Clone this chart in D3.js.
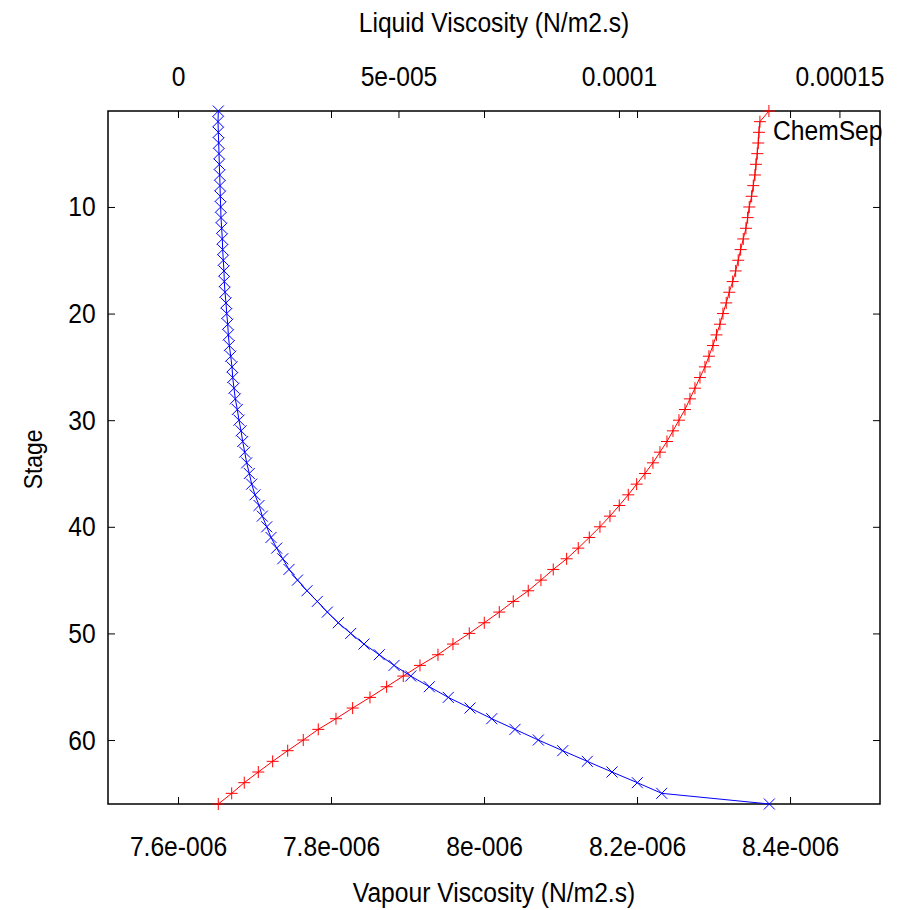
<!DOCTYPE html>
<html>
<head>
<meta charset="utf-8">
<script src="https://cdn.jsdelivr.net/npm/d3@7"></script>
<style>
  body { margin: 0; background: #fff; }
  text { font-family: "Liberation Sans Narrow", "Liberation Sans", Arial, sans-serif; fill: #000; }
</style>
</head>
<body>
<script>
const w = 906;
const h = 910;

// stages 1..66
const stages = d3.range(1, 67);

// liquid viscosity (N/m2.s), top axis, red +
const liquidViscosity = [
  1.3401e-4, 1.3197e-4, 1.3175e-4, 1.3159e-4, 1.3136e-4, 1.3107e-4, 1.3084e-4, 1.3046e-4, 1.3009e-4, 1.2955e-4,
  1.2919e-4, 1.2880e-4, 1.2819e-4, 1.2760e-4, 1.2705e-4, 1.2647e-4, 1.2579e-4, 1.2501e-4, 1.2433e-4, 1.2358e-4,
  1.2290e-4, 1.2211e-4, 1.2132e-4, 1.2041e-4, 1.1950e-4, 1.1837e-4, 1.1723e-4, 1.1610e-4, 1.1497e-4, 1.1361e-4,
  1.1225e-4, 1.1089e-4, 1.0930e-4, 1.0771e-4, 1.0590e-4, 1.0402e-4, 1.0211e-4, 1.0007e-4, 9.796e-5, 9.569e-5,
  9.327e-5, 9.077e-5, 8.814e-5, 8.510e-5, 8.231e-5, 7.943e-5, 7.603e-5, 7.286e-5, 6.946e-5, 6.606e-5,
  6.236e-5, 5.896e-5, 5.488e-5, 5.109e-5, 4.732e-5, 4.354e-5, 3.961e-5, 3.583e-5, 3.181e-5, 2.841e-5,
  2.488e-5, 2.147e-5, 1.821e-5, 1.503e-5, 1.218e-5, 9.14e-6
];

// vapour viscosity (N/m2.s), bottom axis, blue x
const vapourViscosity = [
  7.6527e-6, 7.6523e-6, 7.6527e-6, 7.6532e-6, 7.6536e-6, 7.6540e-6, 7.6545e-6, 7.6549e-6, 7.6553e-6, 7.6558e-6,
  7.6562e-6, 7.6571e-6, 7.6579e-6, 7.6584e-6, 7.6592e-6, 7.6601e-6, 7.6605e-6, 7.6614e-6, 7.6627e-6, 7.6637e-6,
  7.6650e-6, 7.6658e-6, 7.6671e-6, 7.6689e-6, 7.6706e-6, 7.6715e-6, 7.6732e-6, 7.6749e-6, 7.6775e-6, 7.6797e-6,
  7.6824e-6, 7.6846e-6, 7.6872e-6, 7.6898e-6, 7.6932e-6, 7.6963e-6, 7.7007e-6, 7.7059e-6, 7.7102e-6, 7.7160e-6,
  7.7216e-6, 7.7290e-6, 7.7369e-6, 7.7451e-6, 7.7562e-6, 7.7686e-6, 7.7821e-6, 7.7952e-6, 7.8095e-6, 7.8258e-6,
  7.8431e-6, 7.8631e-6, 7.8824e-6, 7.9042e-6, 7.9285e-6, 7.9533e-6, 7.9817e-6, 8.0101e-6, 8.0405e-6, 8.0710e-6,
  8.1029e-6, 8.1350e-6, 8.1673e-6, 8.2004e-6, 8.2323e-6, 8.3730e-6
];

const vapourTicks = [7.6e-6, 7.8e-6, 8e-6, 8.2e-6, 8.4e-6];
const vapourTickLabels = ["7.6e-006", "7.8e-006", "8e-006", "8.2e-006", "8.4e-006"];
const liquidTicks = [0, 5e-5, 1e-4, 1.5e-4];
const liquidTickLabels = ["0", "5e-005", "0.0001", "0.00015"];
const stageTicks = [10, 20, 30, 40, 50, 60];

const padL = 108, padR = 880, padT = 111, padB = 804;
const tickLen = 7;
const squeeze = "scale(0.88,1)"; // narrow look of the original font

const svg = d3.select("body").append("svg")
  .attr("width", w)
  .attr("height", h);

const yScale = d3.scaleLinear().domain([1, 66]).range([padT, padB]);
const xVap = d3.scaleLinear().domain([7.5085e-6, 8.5176e-6]).range([padL, padR]);
const xLiq = d3.scaleLinear().domain([-1.587e-5, 1.592e-4]).range([padL, padR]);

function style(g) {
  g.select(".domain").remove();
  g.selectAll(".tick line").attr("stroke", "#000").attr("stroke-width", 1);
  g.selectAll(".tick text").attr("font-size", 28).attr("fill", "#000")
    .attr("transform", squeeze)
    .attr("font-family", '"Liberation Sans Narrow", "Liberation Sans", sans-serif');
}

// bottom axis (vapour)
svg.append("g").attr("transform", "translate(0," + padB + ")")
  .call(d3.axisBottom(xVap).tickValues(vapourTicks)
    .tickFormat((d, i) => vapourTickLabels[i]).tickSize(-tickLen).tickPadding(32))
  .call(style);

// mirrored vapour ticks on top
svg.append("g").attr("transform", "translate(0," + padT + ")")
  .call(d3.axisTop(xVap).tickValues(vapourTicks).tickFormat("").tickSize(-tickLen))
  .call(style);

// top axis (liquid)
svg.append("g").attr("transform", "translate(0," + padT + ")")
  .call(d3.axisTop(xLiq).tickValues(liquidTicks)
    .tickFormat((d, i) => liquidTickLabels[i]).tickSize(-tickLen).tickPadding(25))
  .call(style);

// left axis (stage)
svg.append("g").attr("transform", "translate(" + padL + ",0)")
  .call(d3.axisLeft(yScale).tickValues(stageTicks).tickSize(-tickLen).tickPadding(14))
  .call(style);

// mirrored right ticks
svg.append("g").attr("transform", "translate(" + padR + ",0)")
  .call(d3.axisRight(yScale).tickValues(stageTicks).tickFormat("").tickSize(-tickLen))
  .call(style);

// frame
svg.append("rect")
  .attr("x", padL).attr("y", padT)
  .attr("width", padR - padL).attr("height", padB - padT)
  .attr("fill", "none").attr("stroke", "#000").attr("stroke-width", 1.5);

// axis titles
svg.append("text")
  .attr("transform", "translate(" + ((padL + padR) / 2) + ",32) " + squeeze)
  .attr("text-anchor", "middle").attr("font-size", 28)
  .text("Liquid Viscosity (N/m2.s)");
svg.append("text")
  .attr("transform", "translate(" + ((padL + padR) / 2) + ",902) " + squeeze)
  .attr("text-anchor", "middle").attr("font-size", 28)
  .text("Vapour Viscosity (N/m2.s)");
svg.append("text")
  .attr("transform", "translate(42," + ((padT + padB) / 2 + 2) + ") rotate(-90) " + squeeze)
  .attr("text-anchor", "middle").attr("font-size", 26)
  .text("Stage");

// series
const liq = stages.map((s, i) => ({ s: s, v: liquidViscosity[i] }));
const vap = stages.map((s, i) => ({ s: s, v: vapourViscosity[i] }));

svg.append("path").datum(liq)
  .attr("fill", "none").attr("stroke", "#ff0000").attr("stroke-width", 1)
  .attr("d", d3.line().x(d => xLiq(d.v)).y(d => yScale(d.s)));

svg.selectAll(".plus").data(liq).enter().append("path")
  .attr("class", "plus")
  .attr("transform", d => "translate(" + xLiq(d.v) + "," + yScale(d.s) + ")")
  .attr("d", "M-6,0H6M0,-6V6")
  .attr("stroke", "#ff0000").attr("stroke-width", 1).attr("fill", "none");

svg.append("path").datum(vap)
  .attr("fill", "none").attr("stroke", "#0000ff").attr("stroke-width", 1)
  .attr("d", d3.line().x(d => xVap(d.v)).y(d => yScale(d.s)));

svg.selectAll(".cross").data(vap).enter().append("path")
  .attr("class", "cross")
  .attr("transform", d => "translate(" + xVap(d.v) + "," + yScale(d.s) + ")")
  .attr("d", "M-5.5,-5.5L5.5,5.5M-5.5,5.5L5.5,-5.5")
  .attr("stroke", "#0000ff").attr("stroke-width", 1).attr("fill", "none");

// key
svg.append("text")
  .attr("transform", "translate(773,140) " + squeeze)
  .attr("font-size", 28)
  .text("ChemSep");
</script>
</body>
</html>
